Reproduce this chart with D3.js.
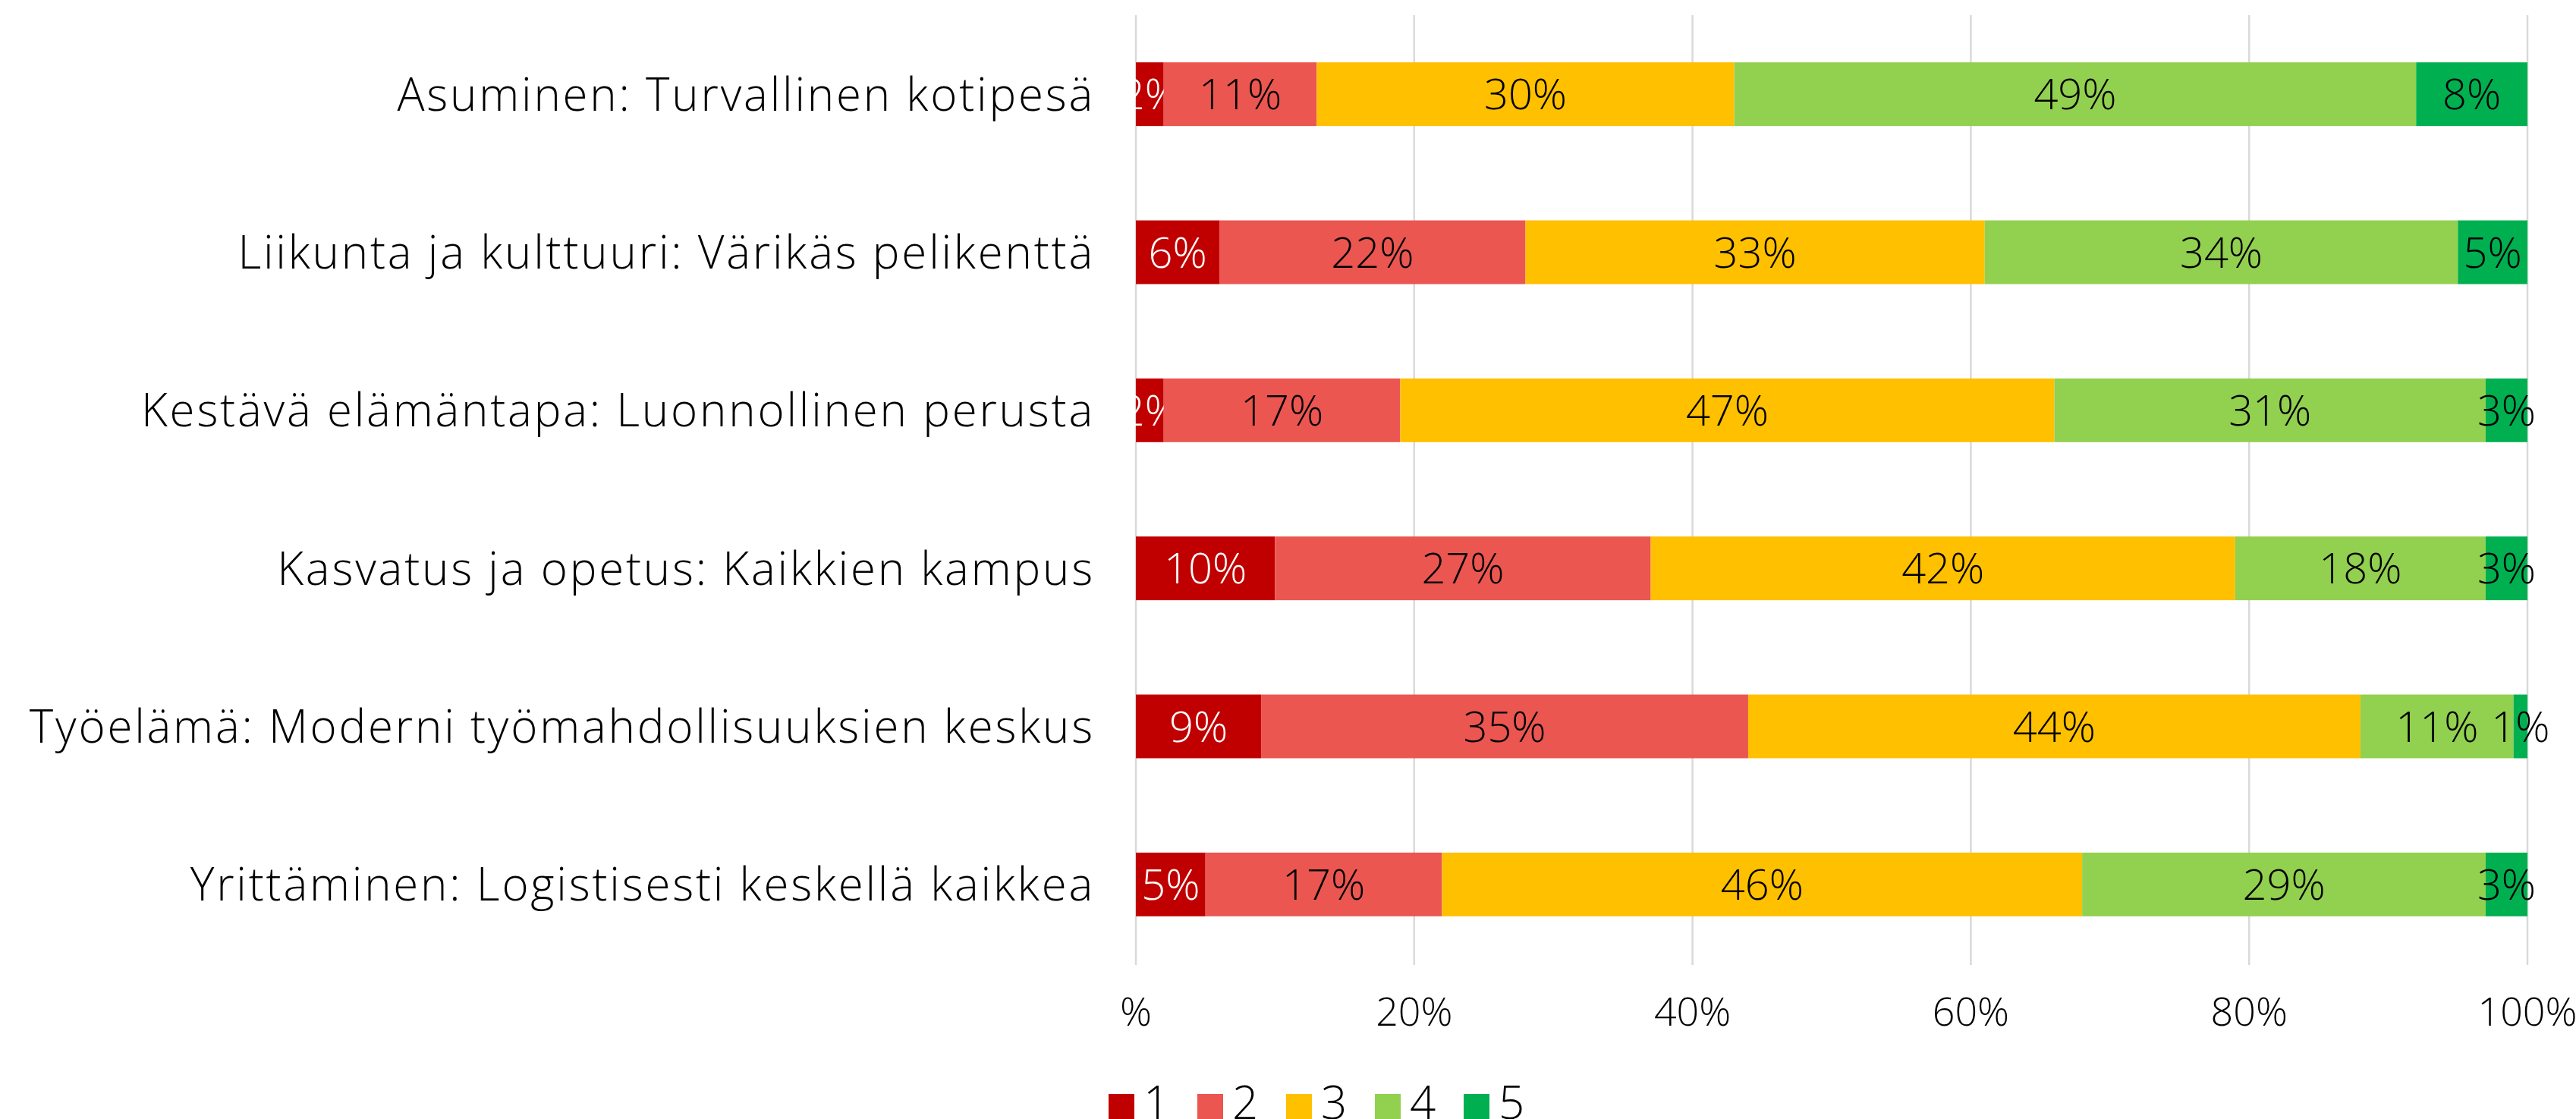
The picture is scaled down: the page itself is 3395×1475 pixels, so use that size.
<!DOCTYPE html>
<html>
<head>
<meta charset="utf-8">
<script src="https://cdn.jsdelivr.net/npm/d3@7"></script>
<style>
  body { margin: 0; background: #fff; }
  text { font-family: "Open Sans", sans-serif; font-weight: 300; }
</style>
</head>
<body>
<script>
const width = 3395;
const height = 1475;

// data
const categories = [
  "Asuminen: Turvallinen kotipesä",
  "Liikunta ja kulttuuri: Värikäs pelikenttä",
  "Kestävä elämäntapa: Luonnollinen perusta",
  "Kasvatus ja opetus: Kaikkien kampus",
  "Työelämä: Moderni työmahdollisuuksien keskus",
  "Yrittäminen: Logistisesti keskellä kaikkea"
];
const seriesNames = ["1", "2", "3", "4", "5"];
const s1 = [2, 6, 2, 10, 9, 5];
const s2 = [11, 22, 17, 27, 35, 17];
const s3 = [30, 33, 47, 42, 44, 46];
const s4 = [49, 34, 31, 18, 11, 29];
const s5 = [8, 5, 3, 3, 1, 3];
const tickValues = [0, 20, 40, 60, 80, 100];
const tickLabels = ["%", "20%", "40%", "60%", "80%", "100%"];

const colors = ["#C00000", "#EB5651", "#FFC000", "#92D050", "#00B050"];
const labelColors = ["#fff", "#000", "#000", "#000", "#000"];

const rows = categories.map((c, i) => ({
  cat: c, "1": s1[i], "2": s2[i], "3": s3[i], "4": s4[i], "5": s5[i]
}));
const stacked = d3.stack().keys(seriesNames)(rows);

const svg = d3.select('body').append('svg').attr('width', width).attr('height', height);

let x = d3.scaleLinear().domain([0, 100]).range([1497, 3331]);
let y = d3.scaleBand().domain(categories).range([20, 1270]).paddingInner(0.597).paddingOuter(0.2985);

// gridlines
svg.append('g')
  .selectAll('line')
  .data(tickValues)
  .enter()
    .append('line')
    .attr('x1', d => x(d)).attr('x2', d => x(d))
    .attr('y1', 20).attr('y2', 1272)
    .attr('stroke', '#D9D9D9')
    .attr('stroke-width', 2.5);

// tick labels
svg.append('g')
  .selectAll('text')
  .data(tickValues)
  .enter()
    .append('text')
    .attr('x', d => x(d))
    .attr('y', 1352)
    .attr('text-anchor', 'middle')
    .attr('font-size', 52)
    .attr('fill', '#000')
    .text((d, i) => tickLabels[i]);

// bars
let layers = svg.append('g')
  .selectAll('g')
  .data(stacked)
  .enter()
    .append('g')
    .attr('fill', (d, i) => colors[i]);

layers.selectAll('rect')
  .data(d => d)
  .enter()
    .append('rect')
    .attr('x', d => x(d[0]))
    .attr('width', d => x(d[1]) - x(d[0]))
    .attr('y', d => y(d.data.cat))
    .attr('height', y.bandwidth());

// value labels
layers.each(function(layer, i) {
  d3.select(this).selectAll('text')
    .data(layer)
    .enter()
      .append('text')
      .attr('x', d => (x(d[0]) + x(d[1])) / 2)
      .attr('y', d => y(d.data.cat) + y.bandwidth() / 2)
      .attr('dy', '0.36em')
      .attr('text-anchor', 'middle')
      .attr('font-size', 56)
      .attr('fill', labelColors[i])
      .text(d => (d[1] - d[0]) + '%');
});

// category labels
svg.append('g')
  .selectAll('text')
  .data(categories)
  .enter()
    .append('text')
    .attr('x', 1443)
    .attr('y', d => y(d) + y.bandwidth() / 2)
    .attr('dy', '0.36em')
    .attr('text-anchor', 'end')
    .attr('font-size', 60)
    .attr('letter-spacing', 2.8)
    .attr('fill', '#000')
    .text(d => d);

// legend
let legend = svg.append('g')
  .selectAll('g')
  .data(seriesNames)
  .enter()
    .append('g')
    .attr('transform', (d, i) => `translate(${1461 + i * 117}, 1442)`);

legend.append('rect')
  .attr('width', 34).attr('height', 34)
  .attr('fill', (d, i) => colors[i]);

legend.append('text')
  .attr('x', 46)
  .attr('y', 33)
  .attr('font-size', 60)
  .attr('fill', '#000')
  .text(d => d);
</script>
</body>
</html>
